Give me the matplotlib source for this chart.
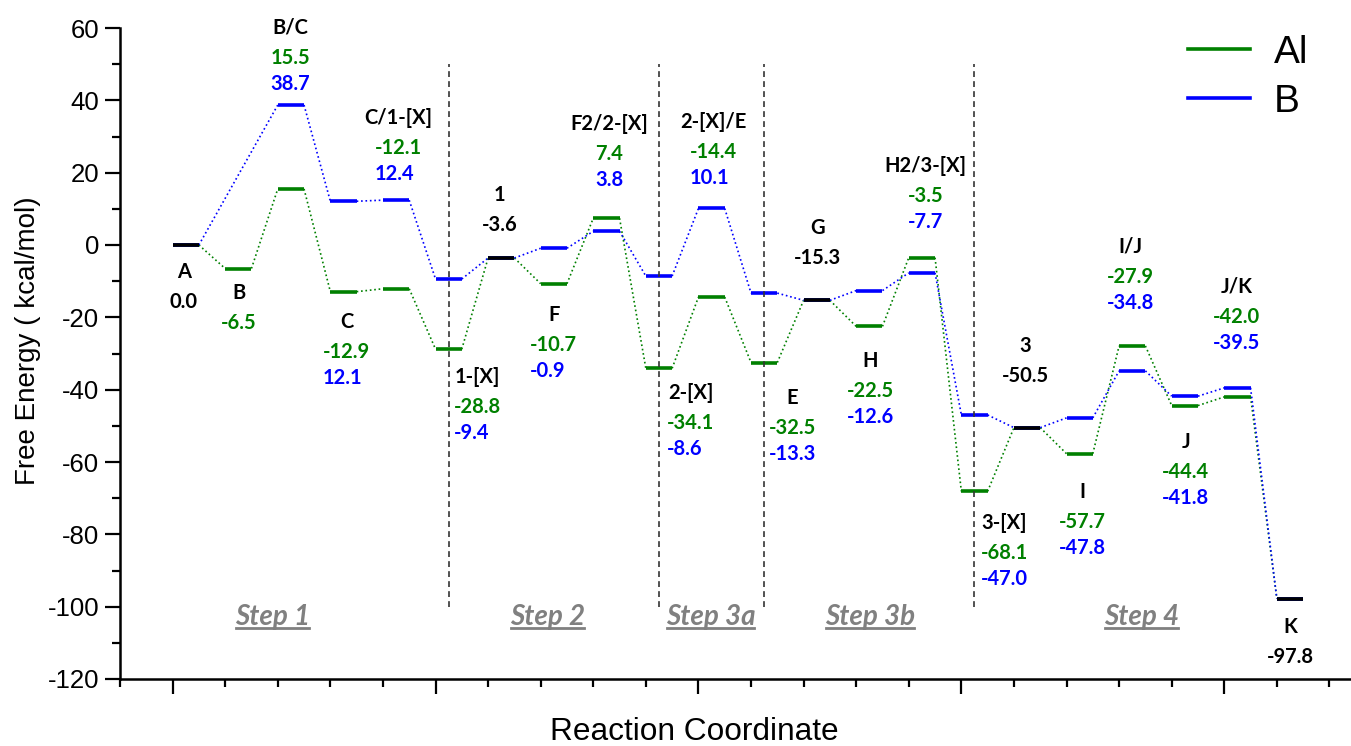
import numpy as np
import matplotlib
matplotlib.use('Agg')
import matplotlib.pyplot as plt
from matplotlib.ticker import MultipleLocator
from matplotlib.lines import Line2D

plt.rcParams['axes.unicode_minus'] = False

# states along the reaction coordinate
states = ['A', 'B', 'B/C', 'C', 'C/1-[X]', '1-[X]', '1', 'F', 'F2/2-[X]', '2-[X]',
          '2-[X]/E', 'E', 'G', 'H', 'H2/3-[X]', '3-[X]', '3', 'I', 'I/J', 'J', 'J/K', 'K']
e_al = [0.0, -6.5, 15.5, -12.9, -12.1, -28.8, -3.6, -10.7, 7.4, -34.1,
        -14.4, -32.5, -15.3, -22.5, -3.5, -68.1, -50.5, -57.7, -27.9, -44.4, -42.0, -97.8]
e_b = [0.0, np.nan, 38.7, 12.1, 12.4, -9.4, -3.6, -0.9, 3.8, -8.6,
       10.1, -13.3, -15.3, -12.6, -7.7, -47.0, -50.5, -47.8, -34.8, -41.8, -39.5, -97.8]
series_names = ['Al', 'B']
step_names = ['Step 1', 'Step 2', 'Step 3a', 'Step 3b', 'Step 4']

# layout (label anchors, step positions, boundaries)
lab_dx = [0.21, 0.26, 0.24, 0.31, 0.30, 0.80, 0.22, 0.25, 0.31, 0.85, 0.29,
          0.79, 0.27, 0.27, 0.32, 0.82, 0.22, 0.31, 0.22, 0.27, 0.24, 0.26]
lab_y = [-7.5, -13.3, 60.0, -21.3, 35.1, -36.5, 13.8, -19.3, 33.5, -40.9, 34.0,
         -42.3, 4.7, -32.1, 21.8, -76.9, -27.9, -68.3, -0.5, -54.5, -11.6, -105.6]
step_x = [1.90, 7.13, 10.23, 13.26, 18.43]
step_y = -102.8
bounds = [5.25, 9.25, 11.25, 15.25]

green = '#008000'
blue = '#0000ff'
bar_w = 0.5

fig = plt.figure(figsize=(13.51, 7.46), dpi=100)
ax = fig.add_axes([120 / 1351, 1 - 679 / 746, 1 - 120 / 1351, 651 / 746])
ax.set_xlim(-1, 22.41)
ax.set_ylim(-120, 60)


def draw_profile(vals, color):
    prev = None
    for i, v in enumerate(vals):
        if np.isnan(v):
            continue
        if prev is not None:
            ax.plot([prev[0] + bar_w, i], [prev[1], v], ls=':', lw=1.2, color=color)
        ax.plot([i, i + bar_w], [v, v], lw=2.6, color=color, solid_capstyle='butt')
        prev = (i, v)


draw_profile(e_al, green)
draw_profile(e_b, blue)
for i in range(len(states)):
    if e_al[i] == e_b[i]:
        ax.plot([i, i + bar_w], [e_al[i], e_al[i]], lw=2.6, color='black', solid_capstyle='butt')

ax.vlines(bounds, -100, 50, colors='#333333', linestyles=(0, (3.5, 2.5)), lw=1.2)

# axes look
for s in ['top', 'right']:
    ax.spines[s].set_visible(False)
for s in ['left', 'bottom']:
    ax.spines[s].set_linewidth(1.8)
ax.yaxis.set_major_locator(MultipleLocator(20))
ax.yaxis.set_minor_locator(MultipleLocator(10))
ax.xaxis.set_major_locator(MultipleLocator(5))
ax.xaxis.set_minor_locator(MultipleLocator(1))
ax.tick_params(which='major', length=11, width=1.6, direction='out', pad=4)
ax.tick_params(which='minor', length=6, width=1.6, direction='out')
ax.set_xticklabels([])
for lab in ax.get_yticklabels():
    lab.set_fontfamily(['Liberation Sans', 'DejaVu Sans'])
    lab.set_fontsize(18.5)

fig.text(694 / 1351, 1 - 732 / 746, 'Reaction Coordinate', ha='center', va='center',
         fontsize=22.8, family=['Liberation Sans', 'DejaVu Sans'])
fig.text(28 / 1351, 1 - 341 / 746, 'Free Energy ( kcal/mol)', ha='center', va='center',
         rotation=90, fontsize=20, family=['Liberation Sans', 'DejaVu Sans'])

# legend
handles = [Line2D([], [], color=green, lw=2.6), Line2D([], [], color=blue, lw=2.6)]
leg = ax.legend(handles, series_names, loc='upper left', bbox_to_anchor=(1188 / 1351, 1 - 35 / 746),
                bbox_transform=fig.transFigure, frameon=False, borderpad=0, borderaxespad=0,
                handlelength=1.6, handletextpad=0.6, labelspacing=0.33,
                prop={'family': ['Liberation Sans', 'DejaVu Sans'], 'size': 28})

# state labels
r = fig.canvas.get_renderer()
lab_font = dict(fontsize=14.5, fontweight='bold', family=['Lato', 'DejaVu Sans'])


def text_w(s):
    t = fig.text(0, 0, s, **lab_font)
    w = t.get_window_extent(r).width
    t.remove()
    return w * 72 / fig.dpi


for i, name in enumerate(states):
    x = i + lab_dx[i]
    y = lab_y[i]
    ax.text(x, y, name, ha='center', va='center', color='black', clip_on=False, **lab_font)
    if e_al[i] == e_b[i]:
        lines = [(f'{e_al[i]:.1f}', 'black')]
    elif np.isnan(e_b[i]):
        lines = [(f'{e_al[i]:.1f}', green)]
    else:
        lines = [(f'{e_al[i]:.1f}', green), (f'{e_b[i]:.1f}', blue)]
    wmax = max(text_w(s) for s, c in lines)
    for k, (s, c) in enumerate(lines):
        ax.annotate(s, (x, y), xytext=(-wmax / 2, -(21.6 + 18.7 * k)), textcoords='offset points',
                    ha='left', va='center', color=c, annotation_clip=False, **lab_font)

# step labels, underlined
inv = ax.transData.inverted()
for sx, s in zip(step_x, step_names):
    t = ax.text(sx, step_y, s, ha='center', va='center', color='#808080', fontsize=20,
                fontweight='bold', fontstyle='italic', family=['Lato', 'DejaVu Sans'])
    bb = t.get_window_extent(r)
    (x0, y0), (x1, _) = inv.transform([(bb.x0 + 1, bb.y0 + 2), (bb.x1 - 1, bb.y0 + 2)])
    ax.plot([x0, x1], [y0, y0], color='#808080', lw=2, clip_on=False)

fig.savefig('out.png', dpi=100)
